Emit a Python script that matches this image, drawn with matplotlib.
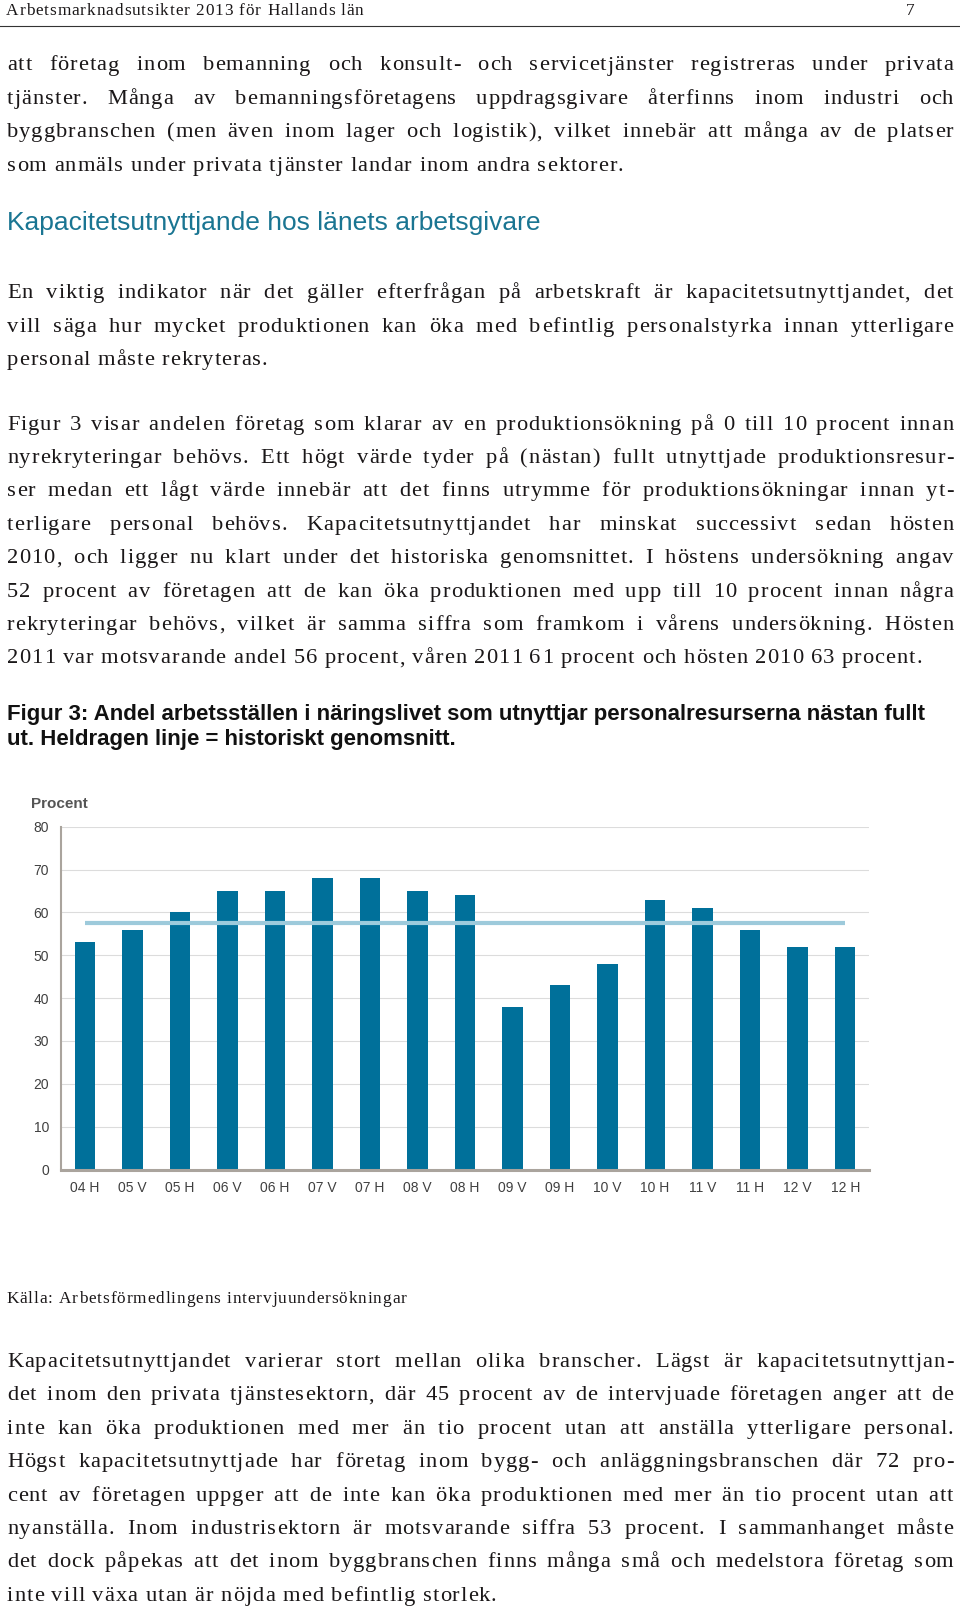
import matplotlib
matplotlib.use("Agg")
import matplotlib.pyplot as plt
from matplotlib.font_manager import FontProperties, findfont
from matplotlib.ft2font import FT2Font

W, H = 960, 1607

# chart data (Figur 3)
CATEGORIES = ["04 H", "05 V", "05 H", "06 V", "06 H", "07 V", "07 H", "08 V", "08 H",
              "09 V", "09 H", "10 V", "10 H", "11 V", "11 H", "12 V", "12 H"]
VALUES = [53, 56, 60, 65, 65, 68, 68, 65, 64, 38, 43, 48, 63, 61, 56, 52, 52]
AVERAGE = 57.5
Y_TICKS = [0, 10, 20, 30, 40, 50, 60, 70, 80]

HEADER = "Arbetsmarknadsutsikter 2013 för Hallands län"
PAGE_NO = "7"
HEADING = "Kapacitetsutnyttjande hos länets arbetsgivare"
CAPTION = ["Figur 3: Andel arbetsställen i näringslivet som utnyttjar personalresurserna nästan fullt",
           "ut. Heldragen linje = historiskt genomsnitt."]
SOURCE = "Källa: Arbetsförmedlingens intervjuundersökningar"

PAR1 = [
    "att företag inom bemanning och konsult- och servicetjänster registreras under privata",
    "tjänster. Många av bemanningsföretagens uppdragsgivare återfinns inom industri och",
    "byggbranschen (men även inom lager och logistik), vilket innebär att många av de platser",
    "som anmäls under privata tjänster landar inom andra sektorer.",
]
PAR2 = [
    "En viktig indikator när det gäller efterfrågan på arbetskraft är kapacitetsutnyttjandet, det",
    "vill säga hur mycket produktionen kan öka med befintlig personalstyrka innan ytterligare",
    "personal måste rekryteras.",
]
PAR3 = [
    "Figur 3 visar andelen företag som klarar av en produktionsökning på 0 till 10 procent innan",
    "nyrekryteringar behövs. Ett högt värde tyder på (nästan) fullt utnyttjade produktionsresur-",
    "ser medan ett lågt värde innebär att det finns utrymme för produktionsökningar innan yt-",
    "terligare personal behövs. Kapacitetsutnyttjandet har minskat successivt sedan hösten",
    "2010, och ligger nu klart under det historiska genomsnittet. I höstens undersökning angav",
    "52 procent av företagen att de kan öka produktionen med upp till 10 procent innan några",
    "rekryteringar behövs, vilket är samma siffra som framkom i vårens undersökning. Hösten",
    "2011 var motsvarande andel 56 procent, våren 2011 61 procent och hösten 2010 63 procent.",
]
PAR4 = [
    "Kapacitetsutnyttjandet varierar stort mellan olika branscher. Lägst är kapacitetsutnyttjan-",
    "det inom den privata tjänstesektorn, där 45 procent av de intervjuade företagen anger att de",
    "inte kan öka produktionen med mer än tio procent utan att anställa ytterligare personal.",
    "Högst kapacitetsutnyttjade har företag inom bygg- och anläggningsbranschen där 72 pro-",
    "cent av företagen uppger att de inte kan öka produktionen med mer än tio procent utan att",
    "nyanställa. Inom industrisektorn är motsvarande siffra 53 procent. I sammanhanget måste",
    "det dock påpekas att det inom byggbranschen finns många små och medelstora företag som",
    "inte vill växa utan är nöjda med befintlig storlek.",
]

TEXT_COLOR = "#1a1718"
BAR_COLOR = "#00709a"
AVG_COLOR = "#9dcadb"
SPINE_COLOR = "#aaa49d"
GRID_COLOR = "#dcdcdc"
TICK_COLOR = "#404040"

BODY = FontProperties(family="Liberation Serif", size=16.2)
SMALL = FontProperties(family="Liberation Serif", size=12.4)
LEFT, RIGHT = 7, 953
STEP = 33.4

fig = plt.figure(figsize=(W / 100, H / 100), dpi=100)
_fonts = {}
_adv = {}


def adv(ch, prop):
    # unhinted advance width of one character, in pixels at 100 dpi
    size = prop.get_size_in_points()
    key = (ch, size)
    if key not in _adv:
        if size not in _fonts:
            ft = FT2Font(findfont(prop), hinting_factor=1)
            ft.set_size(size, 100)
            _fonts[size] = ft
        g = _fonts[size].load_char(ord(ch))
        _adv[key] = g.linearHoriAdvance / 65536
    return _adv[key]


def word_width(word, prop, track):
    return sum(adv(c, prop) for c in word) + track * (len(word) - 1)


def put(x, y, s, prop, track, color=TEXT_COLOR):
    for c in s:
        fig.text(x / W, 1 - y / H, c, fontproperties=prop, color=color,
                 ha="left", va="baseline")
        x += adv(c, prop) + track


def line(y, s, prop=BODY, track=1.2, justify=True, x0=LEFT, x1=RIGHT):
    words = s.split(" ")
    widths = [word_width(w, prop, track) for w in words]
    if justify and len(words) > 1:
        gap = (x1 - x0 - sum(widths)) / (len(words) - 1)
    else:
        gap = adv(" ", prop) + 2 * track
    x = x0
    for w, ww in zip(words, widths):
        put(x, y, w, prop, track)
        x += ww + gap


def paragraph(lines, y0):
    for i, s in enumerate(lines):
        line(y0 + i * STEP, s, justify=(i < len(lines) - 1))


# page header
line(15, HEADER, SMALL, track=1.0, justify=False, x0=6)
put(906, 15, PAGE_NO, SMALL, 0)
fig.add_artist(plt.Line2D([0, 1], [1 - 25.5 / H] * 2, color="#333333", lw=0.8))

paragraph(PAR1, 70.5)
fig.text(LEFT / W, 1 - 230 / H, HEADING, family="Liberation Sans", size=19,
         color="#1a7592", va="baseline")
paragraph(PAR2, 298.3)
paragraph(PAR3, 429.6)
for i, s in enumerate(CAPTION):
    fig.text(LEFT / W, 1 - (720.5 + i * 24.5) / H, s, family="Liberation Sans",
             weight="bold", size=16, color="#111111", va="baseline")

# chart
ax = fig.add_axes([61 / W, 1 - 1169.5 / H, 808 / W, 342.8 / H])
xs = range(len(CATEGORIES))
ax.bar(xs, VALUES, width=0.43, color=BAR_COLOR, zorder=2)
ax.plot([0, len(CATEGORIES) - 1], [AVERAGE, AVERAGE], color=AVG_COLOR, lw=3.0,
        solid_capstyle="butt", zorder=3)
ax.set_xlim(-0.5, len(CATEGORIES) - 0.5)
ax.set_ylim(0, 80)
ax.set_yticks(Y_TICKS)
ax.set_xticks(list(xs))
ax.set_xticklabels(CATEGORIES)
ax.yaxis.grid(True, color=GRID_COLOR, lw=0.8, zorder=0)
ax.set_axisbelow(True)
for sp in ("top", "right"):
    ax.spines[sp].set_visible(False)
ax.spines["left"].set_color(SPINE_COLOR)
ax.spines["left"].set_linewidth(1.5)
ax.spines["bottom"].set_color(SPINE_COLOR)
ax.spines["bottom"].set_linewidth(2.2)
ax.tick_params(axis="y", length=0, pad=8.5, labelsize=10, labelcolor=TICK_COLOR)
ax.tick_params(axis="x", length=0, pad=8, labelsize=10, labelcolor=TICK_COLOR)
for lab in ax.get_xticklabels() + ax.get_yticklabels():
    lab.set_family("Liberation Sans")
fig.text(31 / W, 1 - 804 / H, "Procent", family="Liberation Sans", weight="bold",
         size=11, color="#555555", va="center")

line(1303, SOURCE, SMALL, track=1.0, justify=False, x0=6)
paragraph(PAR4, 1367)

fig.savefig("out.png", dpi=100, facecolor="white")
